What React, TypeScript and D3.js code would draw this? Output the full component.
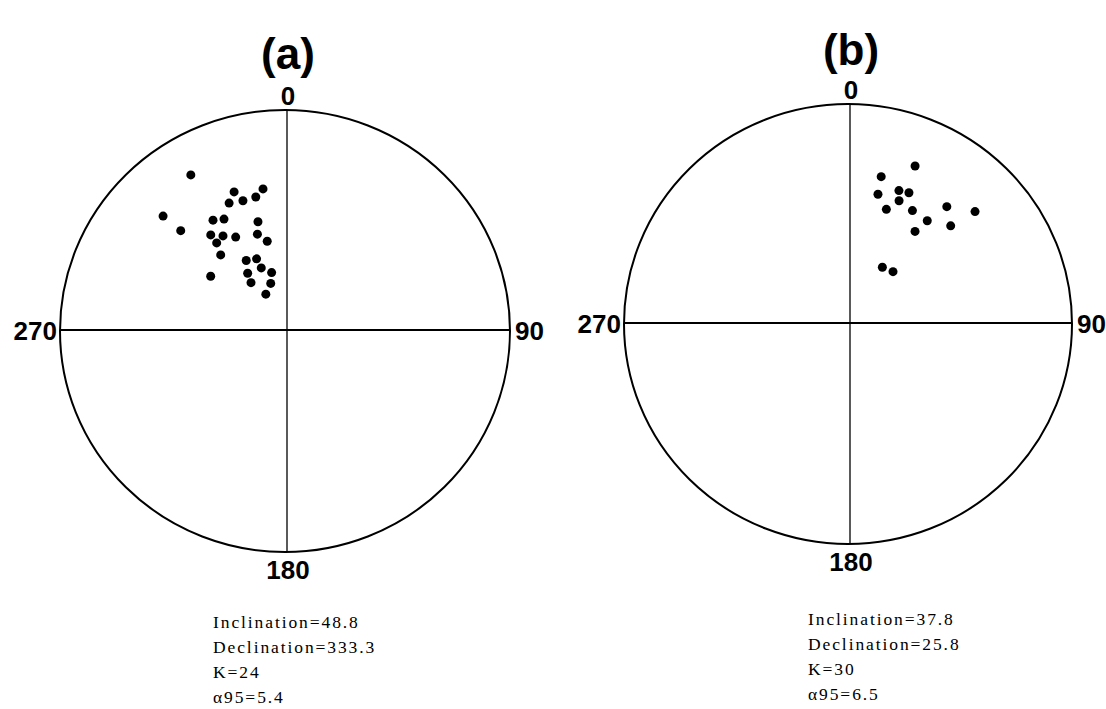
import React, { useRef, useEffect } from "react";
import * as d3 from "d3";

// site directions (declination, inclination in degrees)
const decA = [328.9, 313.3, 313.9, 339.9, 336.4, 342.1, 347.7, 351.2, 327.0, 331.4, 346.1, 322.3, 326.9, 332.3, 322.2, 344.1, 348.8, 319.8, 331.2, 338.5, 339.4, 306.4, 327.1, 347.1, 324.9, 343.3, 332.5];
const incA = [19.0, 25.5, 35.1, 33.7, 37.2, 38.3, 38.2, 35.5, 40.2, 42.1, 48.0, 44.5, 47.6, 50.5, 48.4, 52.6, 56.1, 53.0, 60.3, 61.4, 65.2, 55.8, 64.7, 68.0, 68.3, 71.8, 74.8];

const decB = [23.0, 12.7, 13.0, 20.9, 24.9, 22.5, 18.5, 29.6, 40.1, 48.5, 37.5, 46.3, 35.9, 31.2, 40.7];
const incB = [23.7, 32.5, 39.8, 35.9, 35.1, 39.7, 44.7, 40.9, 31.5, 24.6, 41.0, 36.2, 47.3, 65.6, 64.6];

const titles = ["(a)", "(b)"];
const azimuthLabels = ["0", "90", "180", "270"];
const statsA = ["Inclination=48.8", "Declination=333.3", "K=24", "\u03b195=5.4"];
const statsB = ["Inclination=37.8", "Declination=25.8", "K=30", "\u03b195=6.5"];

export default function App() {
  const ref = useRef<SVGSVGElement>(null);

  useEffect(() => {
    if (!ref.current) return;
    const svg = d3.select(ref.current);
    svg.selectAll("*").remove();

    const panels = [
      { cx: 285, cy: 331, rx: 225, ry: 221, dec: decA, inc: incA, title: titles[0], titleY: 69, stats: statsA, textX: 213, textY: 628 },
      { cx: 848, cy: 324, rx: 224, ry: 220, dec: decB, inc: incB, title: titles[1], titleY: 65, stats: statsB, textX: 808, textY: 625 },
    ];

    const R = 222;
    // equal-area: r/R = sqrt(1 - sin I)
    const rScale = d3.scaleSqrt().domain([0, 1]).range([0, R]);
    const rad = (deg: number) => (deg * Math.PI) / 180;

    panels.forEach((p) => {
      const g = svg.append("g");

      g.append("text")
        .attr("x", p.cx + 3)
        .attr("y", p.titleY)
        .attr("text-anchor", "middle")
        .attr("font-family", "Liberation Sans, Arial, sans-serif")
        .attr("font-weight", "bold")
        .attr("font-size", 44)
        .text(p.title);

      g.append("ellipse")
        .attr("cx", p.cx)
        .attr("cy", p.cy)
        .attr("rx", p.rx)
        .attr("ry", p.ry)
        .attr("fill", "none")
        .attr("stroke", "#000")
        .attr("stroke-width", 2);

      g.append("line")
        .attr("x1", p.cx - p.rx)
        .attr("x2", p.cx + p.rx)
        .attr("y1", p.cy - 1)
        .attr("y2", p.cy - 1)
        .attr("stroke", "#000")
        .attr("stroke-width", 2);

      g.append("line")
        .attr("x1", p.cx + 2)
        .attr("x2", p.cx + 2)
        .attr("y1", p.cy - p.ry)
        .attr("y2", p.cy + p.ry)
        .attr("stroke", "#000")
        .attr("stroke-width", 1.3);

      const lab = (t: string, x: number, y: number, anchor: string) =>
        g.append("text")
          .attr("x", x)
          .attr("y", y)
          .attr("text-anchor", anchor)
          .attr("font-family", "Liberation Sans, Arial, sans-serif")
          .attr("font-weight", "bold")
          .attr("font-size", 26)
          .text(t);

      lab(azimuthLabels[0], p.cx + 3, p.cy - p.ry - 5, "middle");
      lab(azimuthLabels[1], p.cx + p.rx + 5, p.cy + 9, "start");
      lab(azimuthLabels[2], p.cx + 3, p.cy + p.ry + 27, "middle");
      lab(azimuthLabels[3], p.cx - p.rx - 3, p.cy + 9, "end");

      g.selectAll("circle.dot")
        .data(p.dec.map((d, i) => ({ dec: d, inc: p.inc[i] })))
        .enter()
        .append("circle")
        .attr("class", "dot")
        .attr("cx", (d) => p.cx + rScale(1 - Math.sin(rad(d.inc))) * Math.sin(rad(d.dec)))
        .attr("cy", (d) => p.cy - rScale(1 - Math.sin(rad(d.inc))) * Math.cos(rad(d.dec)))
        .attr("r", 4.5)
        .attr("fill", "#000");

      g.selectAll("text.stat")
        .data(p.stats)
        .enter()
        .append("text")
        .attr("class", "stat")
        .attr("x", p.textX)
        .attr("y", (_, i) => p.textY + i * 25)
        .attr("font-family", "Liberation Serif, Times New Roman, serif")
        .attr("font-size", 17.5)
        .attr("letter-spacing", 1.9)
        .text((d) => d);
    });
  }, []);

  return (
    <svg
      ref={ref}
      width={1106}
      height={709}
      style={{ position: "absolute", left: 0, top: 0, background: "#fff" }}
    />
  );
}
